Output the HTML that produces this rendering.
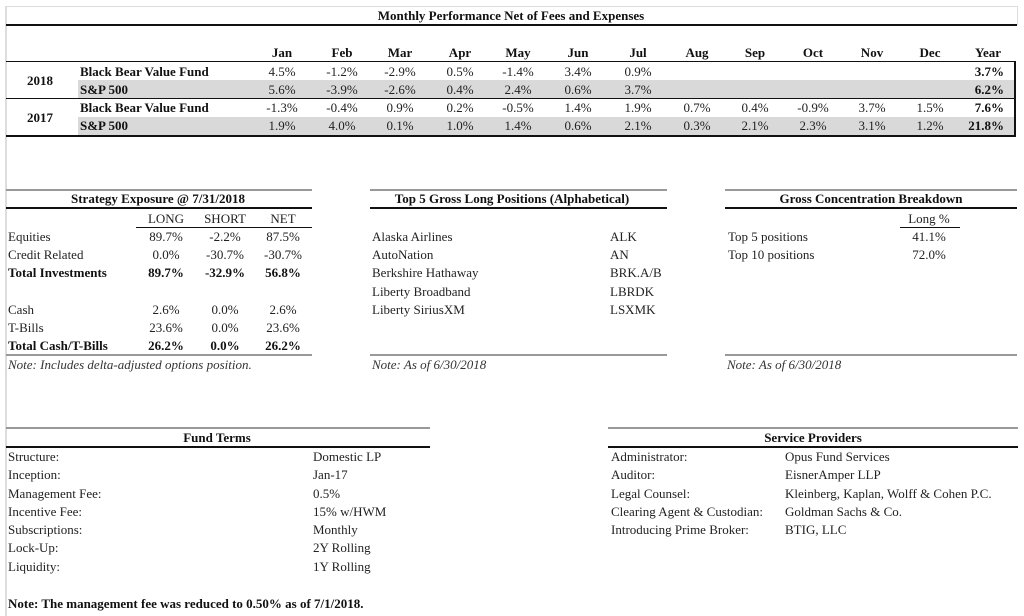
<!DOCTYPE html>
<html><head><meta charset="utf-8"><style>
body{margin:0;width:1024px;height:616px;background:#fff;position:relative;overflow:hidden;font-family:"Liberation Serif",serif;font-size:13px;color:#222}
.a{position:absolute;white-space:nowrap;line-height:14px}
.c{transform:translateX(-50%)}
.r{transform:translateX(-100%)}
.b{font-weight:bold;color:#111}
.i{font-style:italic;color:#333}
.l{position:absolute;background:#111}
.g{position:absolute;background:#999}
.sh{position:absolute;background:#d9d9d9}
</style></head><body>
<div class="g" style="left:5px;top:6px;width:2px;height:610px;background:#ddd"></div>
<div style="position:absolute;left:6px;top:6px;width:1010px;height:18px;border:1px solid #ddd;border-bottom:none"></div>
<div class="a b c" style="left:511px;top:9px">Monthly Performance Net of Fees and Expenses</div>
<div class="l" style="left:6px;top:24px;width:1011px;height:2px"></div>

<div class="sh" style="left:78px;top:80px;width:936px;height:18px"></div>
<div class="sh" style="left:78px;top:117px;width:936px;height:18px"></div>
<div class="l" style="left:6px;top:61px;width:1010px;height:1px"></div>
<div class="l" style="left:6px;top:98px;width:1010px;height:1px"></div>
<div class="l" style="left:6px;top:135px;width:1010px;height:2px"></div>
<div class="l" style="left:1014px;top:61px;width:2px;height:75px"></div>

<script>
var cx=[282,342,400,460,518,578,638,697,755,813,872,930];
var m=["Jan","Feb","Mar","Apr","May","Jun","Jul","Aug","Sep","Oct","Nov","Dec"];
var d=[["4.5%","-1.2%","-2.9%","0.5%","-1.4%","3.4%","0.9%","","","","",""],
["5.6%","-3.9%","-2.6%","0.4%","2.4%","0.6%","3.7%","","","","",""],
["-1.3%","-0.4%","0.9%","0.2%","-0.5%","1.4%","1.9%","0.7%","0.4%","-0.9%","3.7%","1.5%"],
["1.9%","4.0%","0.1%","1.0%","1.4%","0.6%","2.1%","0.3%","2.1%","2.3%","3.1%","1.2%"]];
var yr=["3.7%","6.2%","7.6%","21.8%"],ys=[65,83,101,119],h="";
for(var k=0;k<12;k++){h+='<div class="a b c" style="left:'+cx[k]+'px;top:46px">'+m[k]+'</div>';
for(var j=0;j<4;j++)h+='<div class="a c" style="left:'+cx[k]+'px;top:'+ys[j]+'px">'+d[j][k]+'</div>';}
h+='<div class="a b c" style="left:988px;top:46px">Year</div>';
for(var j=0;j<4;j++)h+='<div class="a b r" style="left:1004px;top:'+ys[j]+'px">'+yr[j]+'</div>';
document.write(h);
</script>
<div class="a b" style="left:80px;top:65px">Black Bear Value Fund</div>
<div class="a b" style="left:80px;top:83px">S&amp;P 500</div>
<div class="a b" style="left:80px;top:101px">Black Bear Value Fund</div>
<div class="a b" style="left:80px;top:119px">S&amp;P 500</div>
<div class="a b c" style="left:40px;top:74px">2018</div>
<div class="a b c" style="left:40px;top:111px">2017</div>

<div class="g" style="left:6px;top:189px;width:306px;height:2px"></div>
<div class="a b c" style="left:158px;top:192px">Strategy Exposure @ 7/31/2018</div>
<div class="l" style="left:6px;top:207px;width:306px;height:2px"></div>
<div class="a c" style="left:166px;top:212px">LONG</div>
<div class="a c" style="left:225px;top:212px">SHORT</div>
<div class="a c" style="left:283px;top:212px">NET</div>
<div class="l" style="left:136px;top:227px;width:176px;height:1px"></div>
<div class="a" style="left:8px;top:230px">Equities</div>
<div class="a" style="left:8px;top:248px">Credit Related</div>
<div class="a b" style="left:8px;top:266px">Total Investments</div>
<div class="a" style="left:8px;top:303px">Cash</div>
<div class="a" style="left:8px;top:321px">T-Bills</div>
<div class="a b" style="left:8px;top:339px">Total Cash/T-Bills</div>
<div class="a c" style="left:166px;top:230px">89.7%</div><div class="a c" style="left:225px;top:230px">-2.2%</div><div class="a c" style="left:283px;top:230px">87.5%</div>
<div class="a c" style="left:166px;top:248px">0.0%</div><div class="a c" style="left:225px;top:248px">-30.7%</div><div class="a c" style="left:283px;top:248px">-30.7%</div>
<div class="a b c" style="left:166px;top:266px">89.7%</div><div class="a b c" style="left:225px;top:266px">-32.9%</div><div class="a b c" style="left:283px;top:266px">56.8%</div>
<div class="a c" style="left:166px;top:303px">2.6%</div><div class="a c" style="left:225px;top:303px">0.0%</div><div class="a c" style="left:283px;top:303px">2.6%</div>
<div class="a c" style="left:166px;top:321px">23.6%</div><div class="a c" style="left:225px;top:321px">0.0%</div><div class="a c" style="left:283px;top:321px">23.6%</div>
<div class="a b c" style="left:166px;top:339px">26.2%</div><div class="a b c" style="left:225px;top:339px">0.0%</div><div class="a b c" style="left:283px;top:339px">26.2%</div>
<div class="g" style="left:6px;top:354px;width:306px;height:2px"></div>
<div class="a i" style="left:8px;top:358px">Note: Includes delta-adjusted options position.</div>

<div class="g" style="left:370px;top:189px;width:297px;height:2px"></div>
<div class="a b c" style="left:512px;top:192px">Top 5 Gross Long Positions (Alphabetical)</div>
<div class="l" style="left:370px;top:207px;width:297px;height:2px"></div>
<div class="a" style="left:372px;top:230px">Alaska Airlines</div><div class="a" style="left:610px;top:230px">ALK</div>
<div class="a" style="left:372px;top:248px">AutoNation</div><div class="a" style="left:610px;top:248px">AN</div>
<div class="a" style="left:372px;top:266px">Berkshire Hathaway</div><div class="a" style="left:610px;top:266px">BRK.A/B</div>
<div class="a" style="left:372px;top:285px">Liberty Broadband</div><div class="a" style="left:610px;top:285px">LBRDK</div>
<div class="a" style="left:372px;top:303px">Liberty SiriusXM</div><div class="a" style="left:610px;top:303px">LSXMK</div>
<div class="g" style="left:370px;top:354px;width:297px;height:2px"></div>
<div class="a i" style="left:372px;top:358px">Note: As of 6/30/2018</div>

<div class="g" style="left:725px;top:189px;width:292px;height:2px"></div>
<div class="a b c" style="left:871px;top:192px">Gross Concentration Breakdown</div>
<div class="l" style="left:725px;top:207px;width:292px;height:2px"></div>
<div class="a c" style="left:929px;top:212px">Long %</div>
<div class="l" style="left:900px;top:227px;width:60px;height:1px"></div>
<div class="a" style="left:728px;top:230px">Top 5 positions</div><div class="a c" style="left:929px;top:230px">41.1%</div>
<div class="a" style="left:728px;top:248px">Top 10 positions</div><div class="a c" style="left:929px;top:248px">72.0%</div>
<div class="g" style="left:725px;top:354px;width:292px;height:2px"></div>
<div class="a i" style="left:727px;top:358px">Note: As of 6/30/2018</div>

<div class="g" style="left:6px;top:427px;width:424px;height:2px"></div>
<div class="a b c" style="left:217px;top:431px">Fund Terms</div>
<div class="l" style="left:6px;top:446px;width:424px;height:2px"></div>
<div class="a" style="left:8px;top:450px">Structure:</div><div class="a" style="left:313px;top:450px">Domestic LP</div>
<div class="a" style="left:8px;top:468px">Inception:</div><div class="a" style="left:313px;top:468px">Jan-17</div>
<div class="a" style="left:8px;top:487px">Management Fee:</div><div class="a" style="left:313px;top:487px">0.5%</div>
<div class="a" style="left:8px;top:505px">Incentive Fee:</div><div class="a" style="left:313px;top:505px">15% w/HWM</div>
<div class="a" style="left:8px;top:523px">Subscriptions:</div><div class="a" style="left:313px;top:523px">Monthly</div>
<div class="a" style="left:8px;top:541px">Lock-Up:</div><div class="a" style="left:313px;top:541px">2Y Rolling</div>
<div class="a" style="left:8px;top:560px">Liquidity:</div><div class="a" style="left:313px;top:560px">1Y Rolling</div>
<div class="a b" style="left:8px;top:597px">Note: The management fee was reduced to 0.50% as of 7/1/2018.</div>

<div class="g" style="left:608px;top:427px;width:410px;height:2px"></div>
<div class="a b c" style="left:813px;top:431px">Service Providers</div>
<div class="l" style="left:608px;top:446px;width:410px;height:2px"></div>
<div class="a" style="left:611px;top:450px">Administrator:</div><div class="a" style="left:785px;top:450px">Opus Fund Services</div>
<div class="a" style="left:611px;top:468px">Auditor:</div><div class="a" style="left:785px;top:468px">EisnerAmper LLP</div>
<div class="a" style="left:611px;top:487px">Legal Counsel:</div><div class="a" style="left:785px;top:487px">Kleinberg, Kaplan, Wolff &amp; Cohen P.C.</div>
<div class="a" style="left:611px;top:505px">Clearing Agent &amp; Custodian:</div><div class="a" style="left:785px;top:505px">Goldman Sachs &amp; Co.</div>
<div class="a" style="left:611px;top:523px">Introducing Prime Broker:</div><div class="a" style="left:785px;top:523px">BTIG, LLC</div>
</body></html>
